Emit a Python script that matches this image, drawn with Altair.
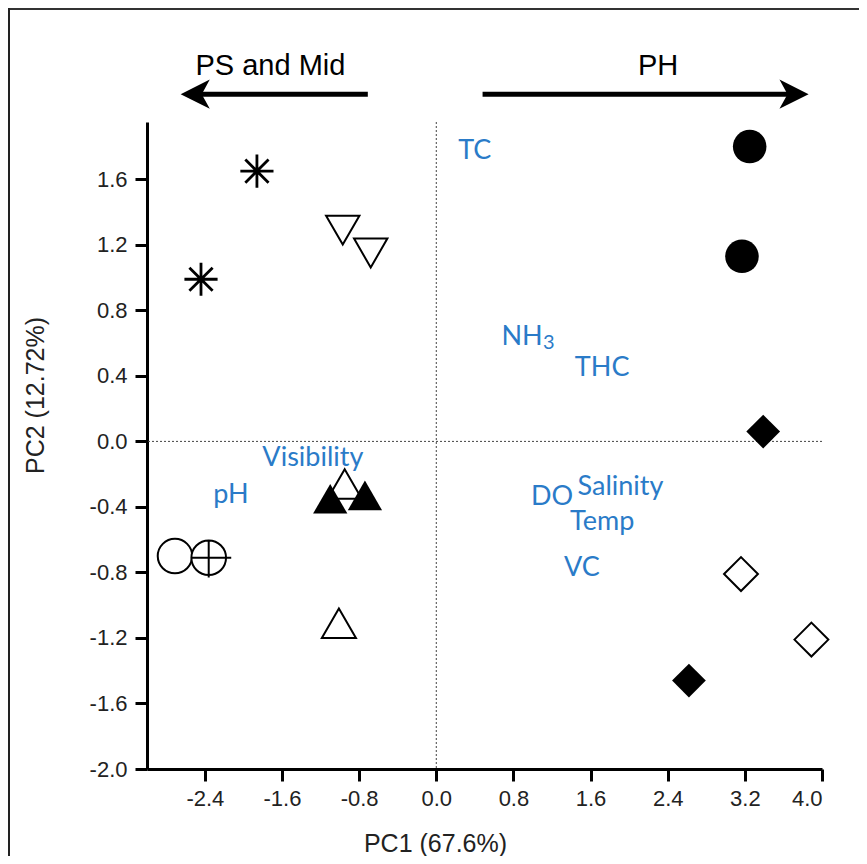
import altair as alt
import pandas as pd

# ---- data ----
pt_group = ["asterisk", "asterisk", "open_down", "open_down",
            "filled_circle", "filled_circle", "filled_diamond", "filled_diamond",
            "open_diamond", "open_diamond", "open_up", "open_up",
            "filled_up", "filled_up", "open_circle", "circle_plus"]
pt_x = [-1.86, -2.44, -0.97, -0.68, 3.25, 3.17, 3.39, 2.62,
        3.16, 3.89, -0.95, -1.01, -1.10, -0.74, -2.71, -2.36]
pt_y = [1.65, 0.99, 1.29, 1.15, 1.80, 1.13, 0.06, -1.46,
        -0.81, -1.21, -0.26, -1.11, -0.35, -0.33, -0.70, -0.71]

var_names = ["TC", "NH", "THC", "Visibility", "pH", "DO", "Salinity", "Temp", "VC"]
var_sub = ["", "3", "", "", "", "", "", "", ""]
var_x = [0.40, 0.89, 1.72, -1.28, -2.13, 1.20, 1.91, 1.72, 1.51]
var_y = [1.77, 0.64, 0.45, -0.10, -0.33, -0.34, -0.28, -0.49, -0.77]

arrow_labels = ["PS and Mid", "PH"]
arrow_label_x = [-1.72, 2.30]
arrow_label_y = [2.29, 2.29]
arrow_start = [-0.71, 0.48]
arrow_end = [-2.50, 3.70]
arrow_head_x = [-2.50, 3.71]
arrow_y = [2.12, 2.12]
arrow_dir = ["left", "right"]

x_ticks = [-2.4, -1.6, -0.8, 0.0, 0.8, 1.6, 2.4, 3.2, 4.0]
y_ticks = [-2.0, -1.6, -1.2, -0.8, -0.4, 0.0, 0.4, 0.8, 1.2, 1.6]

# ---- styles ----
ASTERISK = "M0,-1L0,1M-1,0L1,0M-0.7,-0.7L0.7,0.7M-0.7,0.7L0.7,-0.7"
CIRCLE_PLUS = "M-1,0A1,1 0 1 1 1,0A1,1 0 1 1 -1,0ZM-1,0L1.3,0M0,-1L0,1.15"
LEFT_HEAD = "M-1,0L1,-1L0.45,0L1,1Z"
RIGHT_HEAD = "M1,0L-1,-1L-0.45,0L-1,1Z"
shape_map = {
    "asterisk": (ASTERISK, 1100), "open_down": ("triangle-down", 1200),
    "filled_circle": ("circle", 1000), "filled_diamond": ("diamond", 900),
    "open_diamond": ("diamond", 900), "open_up": ("triangle-up", 1000),
    "filled_up": ("triangle-up", 1000), "open_circle": ("circle", 1000),
    "circle_plus": (CIRCLE_PLUS, 800),
}
filled_groups = ["filled_circle", "filled_diamond", "filled_up"]
BLUE = "#2a7bc8"

pts = pd.DataFrame({"group": pt_group, "x": pt_x, "y": pt_y})
star_pts = pts[pts.group == "asterisk"]
open_pts = pts[~pts.group.isin(filled_groups + ["asterisk"])]
fill_pts = pts[pts.group.isin(filled_groups)]

dom = list(shape_map.keys())
shape_scale = alt.Scale(domain=dom, range=[shape_map[g][0] for g in dom])
size_scale = alt.Scale(domain=dom, range=[shape_map[g][1] for g in dom])

xsc = alt.Scale(domain=[-3.0, 4.0], nice=False, zero=False)
ysc = alt.Scale(domain=[-2.0, 1.95], nice=False, zero=False)

fix_minus = "replace(datum.label, '\u2212', '-')"
xax = alt.Axis(values=x_ticks, format=".1f", title="PC1 (67.6%)", grid=False,
               labelPadding=7, labelExpr=fix_minus,
               titleX=288, titleY=74, titleBaseline="middle", titleAlign="center")
yax = alt.Axis(values=y_ticks, format=".1f", title="PC2 (12.72%)", grid=False,
               labelPadding=8, labelExpr=fix_minus,
               titleX=-112, titleY=273, titleBaseline="middle", titleAlign="center")

base_x = alt.X("x:Q", scale=xsc, axis=xax)
base_y = alt.Y("y:Q", scale=ysc, axis=yax)

zero_df = pd.DataFrame({"v": [0.0]})
vline = alt.Chart(zero_df).mark_rule(color="#444", strokeWidth=1, strokeDash=[2, 2]).encode(
    x=alt.X("v:Q", scale=xsc, axis=xax))
hline = alt.Chart(zero_df).mark_rule(color="#444", strokeWidth=1, strokeDash=[2, 2]).encode(
    y=alt.Y("v:Q", scale=ysc, axis=yax))

def marker_layer(df, **mark_kw):
    return alt.Chart(df).mark_point(opacity=1, **mark_kw).encode(
        x=base_x, y=base_y,
        shape=alt.Shape("group:N", scale=shape_scale, legend=None),
        size=alt.Size("group:N", scale=size_scale, legend=None),
    )

star_layer = marker_layer(star_pts, filled=False, stroke="black", strokeWidth=2.8)
open_layer = marker_layer(open_pts, filled=False, fill="white", fillOpacity=1,
                          stroke="black", strokeWidth=2)
filled_layer = marker_layer(fill_pts, filled=True, color="black")

vars_df = pd.DataFrame({"name": var_names, "sub": var_sub, "x": var_x, "y": var_y})
var_text = alt.Chart(vars_df).mark_text(
    font="Lato", fontSize=27, color=BLUE, align="center", baseline="middle"
).encode(x=base_x, y=base_y, text="name:N")
var_subtext = alt.Chart(vars_df).transform_filter("datum.sub != ''").mark_text(
    font="Lato", fontSize=20, color=BLUE, align="left", baseline="middle", dx=21, dy=6
).encode(x=base_x, y=base_y, text="sub:N")

arr_df = pd.DataFrame({"x": arrow_start, "x2": arrow_end, "y": arrow_y,
                       "hx": arrow_head_x, "dir": arrow_dir})
shafts = alt.Chart(arr_df).mark_rule(color="black", strokeWidth=5, clip=False).encode(
    x=alt.X("x:Q", scale=xsc, axis=xax), x2="x2:Q", y=base_y)
head_left = alt.Chart(arr_df).transform_filter("datum.dir == 'left'").mark_point(
    shape=LEFT_HEAD, filled=True, color="black", opacity=1, size=850, clip=False
).encode(x=alt.X("hx:Q", scale=xsc, axis=xax), y=base_y)
head_right = alt.Chart(arr_df).transform_filter("datum.dir == 'right'").mark_point(
    shape=RIGHT_HEAD, filled=True, color="black", opacity=1, size=850, clip=False
).encode(x=alt.X("hx:Q", scale=xsc, axis=xax), y=base_y)
alab_df = pd.DataFrame({"t": arrow_labels, "x": arrow_label_x, "y": arrow_label_y})
alabs = alt.Chart(alab_df).mark_text(
    font="Liberation Sans", fontSize=29, color="black", align="center", baseline="middle", clip=False
).encode(x=base_x, y=base_y, text="t:N")

frame_top = alt.Chart(zero_df).mark_rule(color="#333", strokeWidth=2, clip=False).encode(
    x=alt.value(-139), x2=alt.value(720), y=alt.value(-113))
frame_left = alt.Chart(zero_df).mark_rule(color="#222", strokeWidth=2, clip=False).encode(
    x=alt.value(-138), y=alt.value(-114), y2=alt.value(745))

chart = alt.layer(
    frame_top, frame_left, vline, hline, var_text, var_subtext, star_layer, open_layer,
    filled_layer, shafts, head_left, head_right, alabs
).properties(
    width=675, height=647, autosize="none",
    padding={"left": 139, "top": 114, "right": 37, "bottom": 87},
    background="white",
).configure_view(stroke=None).configure_axis(
    domainColor="black", domainWidth=3, tickColor="black", tickWidth=3, tickSize=12,
    labelFont="Liberation Sans", labelFontSize=22, labelColor="#222",
    titleFont="Liberation Sans", titleFontSize=25, titleFontWeight="normal", titleColor="#222",
)

chart.save("out.html", embed_options={"renderer": "svg", "actions": False})
